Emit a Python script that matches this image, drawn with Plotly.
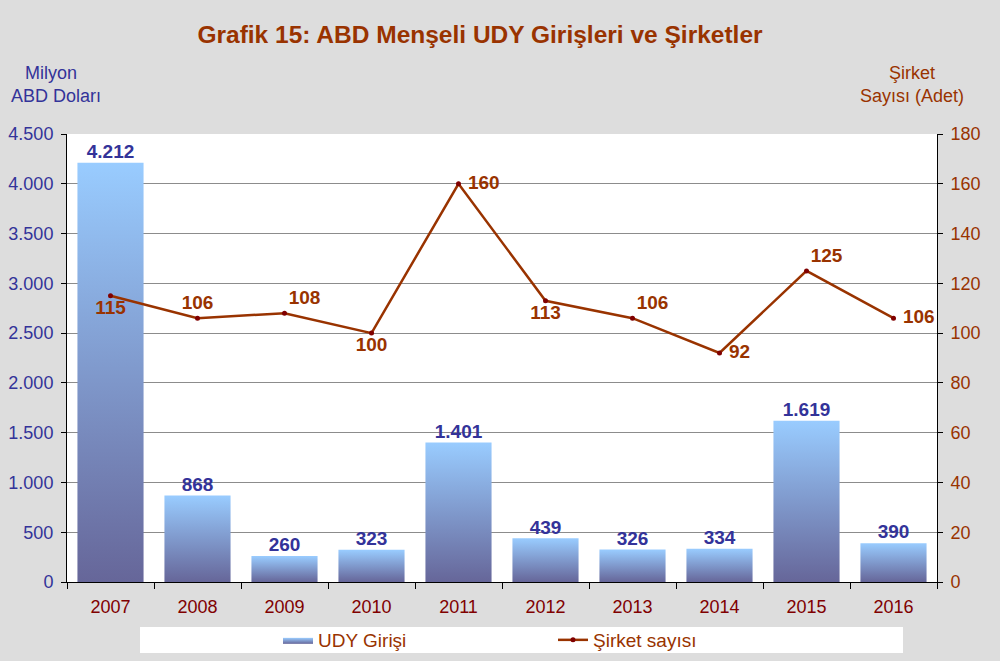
import plotly.graph_objects as go

years = ["2007", "2008", "2009", "2010", "2011", "2012", "2013", "2014", "2015", "2016"]
udy = [4212, 868, 260, 323, 1401, 439, 326, 334, 1619, 390]
sirket = [115, 106, 108, 100, 160, 113, 106, 92, 125, 106]
label_pos = ["bottom center", "top center", "top right", "bottom center", "middle right",
             "bottom center", "top right", "middle right", "top right", "middle right"]

BLUE_TXT = "#333399"
BROWN = "#993300"
FONT = "Liberation Sans, Arial, sans-serif"

xs = list(range(len(years)))
w = 0.76

fig = go.Figure()

for i, v in zip(xs, udy):
    fig.add_trace(go.Scatter(
        x=[i - w / 2, i + w / 2, i + w / 2, i - w / 2, i - w / 2],
        y=[0, 0, v, v, 0],
        mode="lines", fill="toself",
        fillgradient=dict(type="vertical", colorscale=[[0, "#666699"], [1, "#99CCFF"]]),
        line=dict(width=0, color="#8fa8d8"),
        name="UDY Girişi", legendgroup="udy", showlegend=(i == 0),
        hoverinfo="skip",
    ))

fig.add_trace(go.Scatter(
    x=xs, y=udy, mode="text",
    text=[f"{v:,}".replace(",", ".") for v in udy],
    textposition="top center",
    textfont=dict(family=FONT, size=19, color=BLUE_TXT, weight="bold"),
    showlegend=False, hoverinfo="skip",
))

line_text = [(" " + str(s)) if p == "middle right" else str(s) for s, p in zip(sirket, label_pos)]

fig.add_trace(go.Scatter(
    x=xs, y=sirket, yaxis="y2", mode="lines+markers+text",
    name="Şirket sayısı",
    line=dict(color=BROWN, width=2.5),
    marker=dict(size=5, color="#800000"),
    text=line_text, textposition=label_pos,
    textfont=dict(family=FONT, size=19, color=BROWN, weight="bold"),
))

fig.update_layout(
    width=1000, height=661,
    margin=dict(l=67, r=63, t=134, b=79, autoexpand=False),
    paper_bgcolor="#DDDDDD", plot_bgcolor="white",
    separators=",.",
    font=dict(family=FONT, size=18),
    title=dict(text="<b>Grafik 15: ABD Menşeli UDY Girişleri ve Şirketler</b>",
               x=0.48, xref="container", xanchor="center",
               y=1 - 34 / 661, yref="container", yanchor="middle",
               font=dict(family=FONT, size=24.5, color=BROWN)),
    xaxis=dict(range=[-0.5, 9.5], tickmode="array", tickvals=xs, ticktext=years,
               showgrid=False, zeroline=False, showline=True, linecolor="black", linewidth=1,
               ticks="outside", ticklen=8, tickcolor="rgba(0,0,0,0)",
               tickfont=dict(color="#800000", size=18),
               minor=dict(tickmode="array", tickvals=[k - 0.5 for k in range(11)],
                          ticks="outside", ticklen=6, tickcolor="black", showgrid=False)),
    yaxis=dict(range=[0, 4500], dtick=500, tickformat=",d",
               showgrid=True, gridcolor="#8c8c8c", gridwidth=1, zeroline=False,
               showline=True, linecolor="black", linewidth=1,
               ticks="outside", ticklen=5, tickcolor="black", ticklabelstandoff=4,
               tickfont=dict(color=BLUE_TXT, size=18)),
    yaxis2=dict(range=[0, 180], dtick=20, overlaying="y", side="right",
                showgrid=False, zeroline=False, showline=True, linecolor="black", linewidth=1,
                ticks="outside", ticklen=5, tickcolor="black", ticklabelstandoff=4,
                tickfont=dict(color=BROWN, size=18)),
    legend=dict(orientation="h", x=278 / 1000, xref="container", xanchor="left",
                y=1 - 640 / 661, yref="container", yanchor="middle",
                bgcolor="rgba(0,0,0,0)", entrywidth=230, entrywidthmode="pixels",
                font=dict(family=FONT, size=19, color=BROWN), itemwidth=30),
    shapes=[dict(type="rect", xref="paper", yref="paper",
                 x0=(140 - 67) / 870, x1=(903 - 67) / 870,
                 y0=-(653 - 582) / 448, y1=-(627 - 582) / 448,
                 fillcolor="white", line=dict(width=0), layer="below")],
    annotations=[
        dict(text="Milyon", x=(51 - 67) / 870, y=(582 - 73) / 448, xref="paper", yref="paper",
             showarrow=False, xanchor="center", yanchor="middle", font=dict(size=18, color=BLUE_TXT)),
        dict(text="ABD Doları", x=(56 - 67) / 870, y=(582 - 96) / 448, xref="paper", yref="paper",
             showarrow=False, xanchor="center", yanchor="middle", font=dict(size=18, color=BLUE_TXT)),
        dict(text="Şirket", x=(912 - 67) / 870, y=(582 - 73) / 448, xref="paper", yref="paper",
             showarrow=False, xanchor="center", yanchor="middle", font=dict(size=18, color=BROWN)),
        dict(text="Sayısı (Adet)", x=(912 - 67) / 870, y=(582 - 96) / 448, xref="paper", yref="paper",
             showarrow=False, xanchor="center", yanchor="middle", font=dict(size=18, color=BROWN)),
    ],
)

fig.write_html("out.html")
